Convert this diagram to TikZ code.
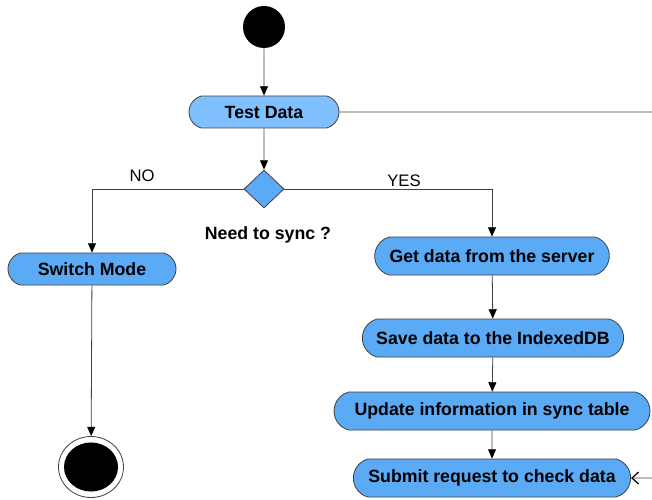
\documentclass[tikz,border=0pt]{standalone}
\usepackage{fontspec}
\setmainfont{Liberation Sans}
\usetikzlibrary{shapes.misc,shapes.geometric,arrows.meta}
\definecolor{actblue}{RGB}{90,170,245}
\definecolor{testblue}{RGB}{128,192,255}
\definecolor{linegray}{RGB}{64,64,64}

\begin{document}
\begin{tikzpicture}[x=0.75pt,y=-0.75pt,
  every node/.style={font=\bfseries\fontsize{13.3}{15}\selectfont},
  action/.style={rounded rectangle,rounded rectangle arc length=150,
    draw=black!75,fill=actblue,minimum height=28.5pt,inner sep=0pt,line width=0.6pt},
  choice/.style={diamond,draw=black!75,fill=actblue,minimum width=30pt,
    minimum height=28.5pt,inner sep=0pt,line width=0.6pt},
  guard/.style={font=\fontsize{12.5}{15}\selectfont},
  flow/.style={draw=linegray,line width=0.6pt,-{Stealth[length=7pt,width=6pt,inset=0pt,color=black]}},
  plain/.style={draw=linegray,line width=0.6pt}]
\useasboundingbox (0,0) rectangle (652,499);

\node[circle,fill=black,minimum size=31.5pt,inner sep=0pt] (start) at (264,27) {};
\node[action,fill=testblue,minimum width=112.5pt,minimum height=24pt] (test) at (264,112) {Test Data};
\node[choice] (sync) at (264,189) {};
\node (synclabel) at (268,235) {Need to sync ?};
\node[action,minimum width=126pt,minimum height=24pt] (switch) at (92,269) {Switch Mode};
\node[ellipse,draw=black!75,fill=white,minimum width=48.75pt,minimum height=45.75pt,
  inner sep=0pt,line width=0.6pt,
  path picture={\fill[black] (path picture bounding box.center) ellipse (20.25pt and 18.4pt);}]
  (stop) at (91,467) {};

\node[action,minimum width=176pt] (get) at (492,256) {Get data from the server};
\node[action,minimum width=196pt] (save) at (493,338) {Save data to the IndexedDB};
\node[action,minimum width=237pt] (update) at (492,411) {Update information in sync table};
\node[action,minimum width=208pt] (submit) at (492,478) {Submit request to check data};

\node[guard] (no) at (142,176) {NO};
\node[guard] (yes) at (404,181) {YES};

\coordinate (out) at (652,112);
\coordinate (back) at (652,478);

% connectors
\draw[flow] (start) -- (test);
\draw[plain] (test) -- (out);
\draw[flow] (test) -- (sync);
\draw[flow] (sync.west) -| (switch);
\draw[flow] (sync.east) -| (get);
\draw[flow] (switch) -- (stop);
\draw[flow] (get) -- (save);
\draw[flow] (save) -- (update);
\draw[flow] (update) -- (submit);
\draw[plain,-{Straight Barb[length=5pt,width=9pt,line width=0.9pt,color=black]}] (back) -- (submit);
\end{tikzpicture}
\end{document}
